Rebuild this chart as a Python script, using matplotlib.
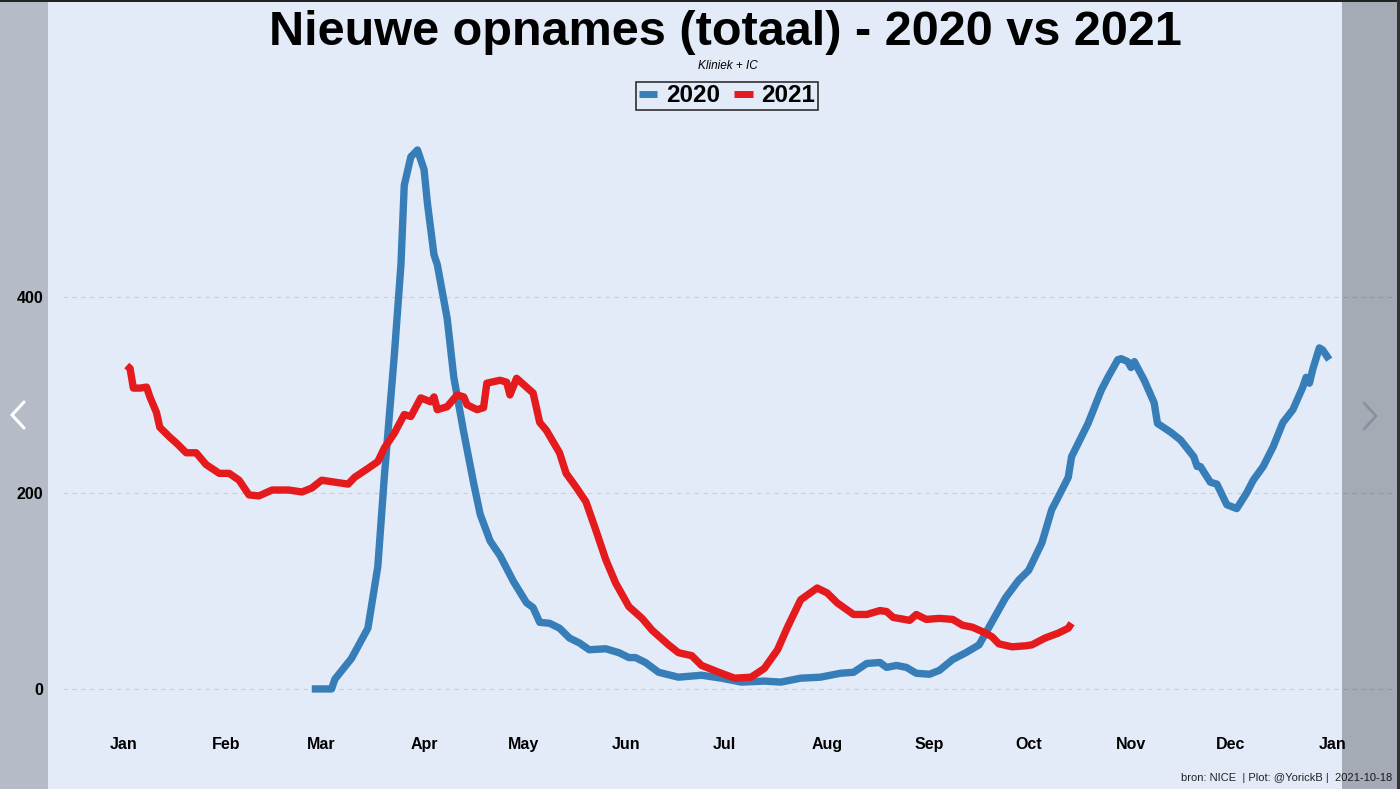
import matplotlib
matplotlib.use("Agg")
import matplotlib.pyplot as plt
from matplotlib.patches import Rectangle
from matplotlib.lines import Line2D

# ---------------- data (day of year, values) ----------------
days_2020 = [57, 63, 64, 69, 74, 77, 79, 82, 84, 85, 87, 89, 91, 92, 94, 95, 98, 100, 103, 106,
             108, 111, 114, 118, 122, 124, 126, 129, 132, 135, 138, 141, 146, 150, 153, 155, 158, 162,
             168, 175, 181, 187, 194, 199, 205, 211, 217, 221, 225, 229, 231, 234, 237, 240, 244,
             247, 251, 255, 259, 262, 265, 267, 271, 274, 278, 281, 283, 286, 287, 292, 296, 298,
             301, 302, 304, 305, 306, 309, 312, 313, 317, 320, 324, 325, 326, 329, 331, 334, 337,
             340, 342, 345, 348, 351, 354, 357, 358, 359, 360, 362, 363, 365]
vals_2020 = [0, 0, 10, 31, 62, 125, 218, 341, 433, 514, 543, 550, 530, 496, 443, 433, 378, 318, 262, 210,
             178, 151, 136, 110, 88, 83, 68, 67, 62, 52, 47, 40, 41, 37, 32, 32, 27, 17,
             12, 14, 11, 7, 8, 7, 11, 12, 16, 17, 26, 27, 22, 24, 22, 16, 15,
             19, 30, 37, 45, 63, 81, 93, 111, 121, 149, 183, 196, 216, 237, 271, 305, 318,
             336, 337, 334, 328, 334, 315, 292, 271, 262, 254, 237, 227, 227, 211, 209, 188, 184,
             200, 213, 227, 247, 272, 285, 308, 318, 312, 326, 348, 346, 336]

days_2021 = [1, 2, 3, 5, 7, 8, 10, 11, 14, 16, 19, 22, 25, 29, 32, 35, 38, 41, 45, 50, 54, 57, 60,
             64, 68, 70, 74, 77, 79, 82, 85, 87, 90, 93, 94, 95, 98, 101, 103, 104, 107, 109, 110,
             114, 116, 117, 119, 122, 124, 126, 128, 132, 134, 137, 140, 143, 146, 149, 153, 157,
             160, 165, 168, 172, 175, 181, 185, 190, 194, 198, 201, 205, 210, 213, 216, 221, 225,
             229, 231, 233, 238, 240, 243, 247, 251, 254, 257, 261, 263, 265, 269, 273, 275, 279,
             283, 286, 287]
vals_2021 = [330, 327, 307, 307, 308, 298, 282, 267, 257, 251, 241, 241, 229, 220, 220, 213, 198, 197,
             203, 203, 201, 205, 213, 211, 209, 216, 225, 232, 246, 261, 280, 278, 297, 293, 298, 285,
             288, 300, 298, 290, 285, 287, 312, 315, 313, 300, 317, 308, 302, 272, 264, 241, 220, 206,
             191, 162, 132, 108, 84, 72, 60, 45, 37, 34, 24, 16, 11, 12, 21, 40, 63, 91, 103, 98, 88,
             76, 76, 80, 79, 73, 70, 76, 71, 72, 71, 65, 63, 57, 53, 46, 43, 44, 45, 52, 57, 62, 67]

month_ticks = [0, 31, 60, 91, 121, 152, 182, 213, 244, 274, 305, 335, 366]
month_labels = ["Jan", "Feb", "Mar", "Apr", "May", "Jun", "Jul", "Aug", "Sep", "Oct", "Nov", "Dec", "Jan"]
y_ticks = [0, 200, 400]

title = "Nieuwe opnames (totaal) - 2020 vs 2021"
subtitle = "Kliniek + IC"
caption = "bron: NICE  | Plot: @YorickB |  2021-10-18"

# ---------------- style ----------------
plt.rcParams['font.family'] = ['Liberation Sans', 'DejaVu Sans']
BG = "#E3EBF9"
BLUE = "#377EB8"
RED = "#E41A1C"

W, H = 1400, 789
fig = plt.figure(figsize=(W / 100, H / 100), dpi=100, facecolor=BG)

ax_l, ax_r, ax_t, ax_b = 63, 1393, 123, 716
ax = fig.add_axes([ax_l / W, 1 - ax_b / H, (ax_r - ax_l) / W, (ax_b - ax_t) / H])
ax.set_facecolor(BG)
for s in ax.spines.values():
    s.set_visible(False)

l20, = ax.plot(days_2020, vals_2020, color=BLUE, lw=5.3, solid_capstyle='butt',
               solid_joinstyle='round', label="2020", zorder=3)
l21, = ax.plot(days_2021, vals_2021, color=RED, lw=5.3, solid_capstyle='butt',
               solid_joinstyle='round', label="2021", zorder=4)

ax.set_xlim(-18.3, 384.3)
ax.set_ylim(-27.6, 577.5)
ax.set_xticks(month_ticks)
ax.set_xticklabels(month_labels, fontsize=11.5, fontweight='bold')
ax.set_yticks(y_ticks)
ax.set_yticklabels([str(v) for v in y_ticks], fontsize=11.5, fontweight='bold')
ax.tick_params(axis='both', length=0)
ax.tick_params(axis='x', pad=15)
ax.tick_params(axis='y', pad=14)
ax.grid(axis='y', color="#C9CED8", linestyle=(0, (4, 4)), linewidth=0.8)
ax.grid(axis='x', visible=False)
ax.set_axisbelow(True)

# title / subtitle
fig.text(725 / W, 1 - 45 / H, title, ha='center', va='baseline', fontsize=35, fontweight='bold')
fig.text(728 / W, 1 - 66 / H, subtitle, ha='center', va='center', fontsize=8.5, style='italic')

# legend
leg = fig.legend(handles=[l20, l21], loc='center', bbox_to_anchor=(727 / W, 1 - 96 / H),
                 ncol=2, frameon=True, fancybox=False, edgecolor='black', facecolor=BG,
                 prop={'weight': 'bold', 'size': 17.5}, handlelength=0.75, handletextpad=0.35,
                 columnspacing=0.6, borderpad=0.12, borderaxespad=0)
leg.get_frame().set_linewidth(1.2)
for h in leg.legend_handles:
    h.set_linewidth(5)

# caption
fig.text(1392 / W, 1 - 778 / H, caption, ha='right', va='center', fontsize=8, color='#222222')

# viewer overlay bands
fig.add_artist(Rectangle((0, 0), 48 / W, 1, transform=fig.transFigure,
                         facecolor='black', alpha=0.2, edgecolor='none', zorder=10))
fig.add_artist(Rectangle((1342 / W, 0), 58 / W, 1, transform=fig.transFigure,
                         facecolor='black', alpha=0.27, edgecolor='none', zorder=10))
# frame edges
fig.add_artist(Rectangle((0, 1 - 2 / H), 1, 2 / H, transform=fig.transFigure,
                         facecolor='#222222', edgecolor='none', zorder=11))
fig.add_artist(Rectangle((1 - 3 / W, 0), 3 / W, 1, transform=fig.transFigure,
                         facecolor='#333333', edgecolor='none', zorder=11))

# arrows
fig.add_artist(Line2D([24 / W, 12 / W, 24 / W], [1 - 402 / H, 1 - 415 / H, 1 - 428 / H],
                      transform=fig.transFigure, color='white', lw=2.2, zorder=12,
                      solid_capstyle='round', solid_joinstyle='miter'))
fig.add_artist(Line2D([1364 / W, 1376 / W, 1364 / W], [1 - 403 / H, 1 - 416 / H, 1 - 429 / H],
                      transform=fig.transFigure, color='#8A919C', lw=2.0, zorder=12,
                      solid_capstyle='round', solid_joinstyle='miter'))

fig.savefig("out.png", dpi=100, facecolor=BG)
